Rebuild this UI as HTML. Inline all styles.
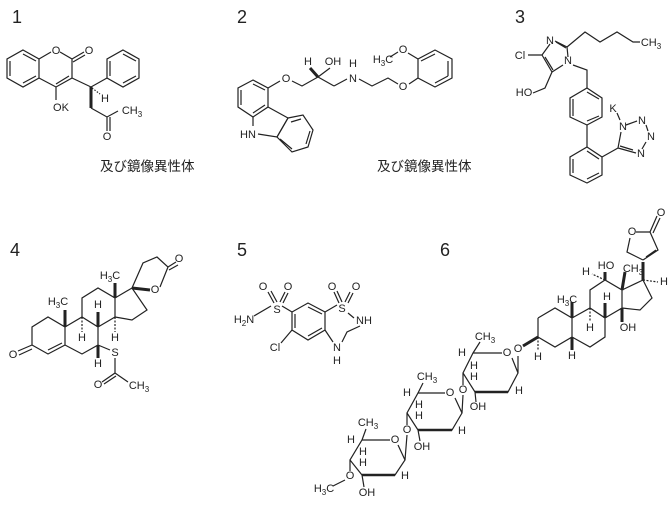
<!DOCTYPE html>
<html><head><meta charset="utf-8"><style>
html,body{margin:0;padding:0;background:#fff;}
svg text{font-family:"Liberation Sans","Noto Sans CJK JP",sans-serif;fill:#222;}
.a{font-size:11px;text-anchor:middle;dominant-baseline:central;}
.n{font-size:18px;}
.j{font-size:13.5px;font-family:"Liberation Sans","Noto Sans CJK JP",sans-serif;}
</style></head><body>
<svg width="672" height="504" viewBox="0 0 672 504" xmlns="http://www.w3.org/2000/svg">
<g stroke="#222" stroke-width="1.2" fill="none">
<!-- 1 -->
<polygon points="23,50 39,59 39,78 23,87 7,78 7,59"/>
<path d="M10,61 L10,76 M23,54 L36,61 M23,83 L36,76"/>
<path d="M39,59 L51,52 M60,52 L72,59 L72,78 L56,87 L39,78 M72,59 L84,52 M73,62 L85,55 M69,76 L56,84 M56,87 L56,100 M72,78 L91,87 L107,78"/>
<polygon points="123,50 139,59 139,78 123,87 107,78 107,59"/>
<path d="M110,61 L110,76 M123,54 L136,61 M136,76 L123,83"/>
<path d="M91,108 L107,117 L118,111 M107,117 L107,131 M110,117 L110,131"/>
<path d="M91,87 L91,108" stroke-width="3"/>
<path d="M92,88 L100,94" stroke-dasharray="1.5,1.5"/>
<!-- 2 -->
<polygon points="253,80 268,88 268,107 253,117 238,107 238,88"/>
<path d="M241,90 L241,105 M253,84 L265,90 M265,105 L253,113"/>
<path d="M268,88 L280,81 M268,107 L288,118 M253,117 L253,126 M258,134 L277,137 L288,118"/>
<polygon points="288,118 303,115 313,130 308,147 292,152 277,137"/>
<path d="M291,122 L301,119 M310,131 L306,144 M280,139 L292,149"/>
<path d="M292,81 L302,86 L318,77 M318,77 L330,68 M334,86 L347,79 M359,79 L372,86 L388,78 L398,84 M409,84 L418,78"/>
<path d="M318,77 L334,86"/>
<path d="M318,77 L310,68" stroke-width="3"/>
<polygon points="418,78 418,59 435,50 452,59 452,78 435,87"/>
<path d="M448,61 L448,76 M435,54 L421,61 M435,83 L448,76 M418,59 L408,53 M398,52 L390,57"/>
<!-- 3 -->
<path d="M542,55 L550,44 M555,41 L567,47 L568,57 M542,55 L552,72 L563,65 M545,57 L553,70 M556,42 L566,48 M542,55 L528,55 M552,72 L545,88 L533,93 M567,47 L585,32 L600,42 L617,32 L633,42 L640,42 M573,65 L587,70 L587,88"/>
<polygon points="587,88 602,98 602,117 587,125 570,117 570,98"/>
<path d="M587,92 L599,99 M599,116 L587,121 M573,99 L573,116 M587,125 L587,147"/>
<polygon points="587,147 602,157 602,175 587,183 570,175 570,157"/>
<path d="M573,159 L573,173 M587,179 L599,173 M599,159 L587,151 M602,157 L618,148 L621,132 M626,125 L637,121 M646,125 L648,131 M646,142 L642,149 M636,153 L618,148 M633,150 L620,146 M617,113 L620,120"/>
<!-- 4 -->
<path d="M18,351 L32,345 M19,355 L32,349 M32,345 L32,327 L48,317 L65,327 L65,345 L48,354 L32,345 M48,350 L62,343 M65,345 L82,354 L98,345 L98,327 L82,317 L65,327 M82,317 L82,298 L98,288 L115,298 L115,317 L98,327 M115,298 L132,288 L147,310 L132,320 L115,317 M132,288 L143,263 L157,257 L168,267 L160,287 M168,267 L176,262 M169,270 L178,265 M98,345 L110,350 M115,358 L115,373 L102,382 M116,376 L104,384 M115,373 L128,382"/>
<path d="M115,298 L115,283 M65,327 L65,310" stroke-width="3"/>
<path d="M82,317 L82,332 M115,317 L115,332" stroke-dasharray="2,1.5"/>
<path d="M98,327 L98,312" stroke-width="3"/>
<path d="M98,345 L98,358" stroke-width="3"/>
<path d="M132,288 L150,290" stroke-width="3"/>
<!-- 5 -->
<polygon points="292,312 308,303 325,312 325,330 308,340 292,330"/>
<path d="M295,314 L295,328 M308,307 L322,314 M308,336 L322,328 M325,312 L337,305 M348,313 L354,318 M360,326 L347,332 L342,342 M325,330 L333,342 M292,312 L282,306 M271,306 L254,316 M292,330 L281,343 M339,303 L334,292 M342,302 L337,291 M345,302 L350,292 M348,303 L353,293 M274,303 L268,292 M277,302 L271,291 M280,302 L285,292 M283,303 L288,293"/>
<!-- 6 steroid -->
<path d="M538,318 L555,308 L572,318 L572,337 L555,347 L538,337 L538,318 M572,318 L590,308 L605,318 L605,337 L590,347 L572,337 M590,308 L590,290 L605,280 L622,290 L622,308 L605,318 M622,290 L643,280 L652,298 L640,310 L622,308 M643,260 L627,252 L630,238 M636,232 L650,232 L658,250 L643,260 M646,257 L656,250 M650,232 L657,216 M653,233 L660,218"/>
<path d="M572,318 L572,302 M622,290 L625,272" stroke-width="3"/>
<path d="M572,337 L572,350" stroke-width="3"/>
<path d="M605,318 L605,303" stroke-width="3"/>
<path d="M622,308 L622,322" stroke-width="3"/>
<path d="M605,280 L605,272" stroke-width="3"/>
<path d="M538,337 L523,346" stroke-width="3"/>
<path d="M643,280 L643,262" stroke-width="3"/>
<path d="M590,308 L590,322 M605,280 L592,274 M643,280 L658,282 M538,337 L538,350" stroke-dasharray="2,1.5"/>
<!-- sugars -->
<path d="M502,353 L473,353 L463,373 L475,392 L508,392 L518,373 L512,358 M473,353 L480,342 M518,373 L518,356 M475,392 L476,402 M463,373 L463,385 M463,395 L462,413"/>
<path d="M445,393 L418,393 L407,413 L418,430 L452,430 L462,413 L455,398 M418,393 L423,383 M418,430 L420,441 M407,413 L407,425 M407,435 L405,460"/>
<path d="M390,440 L362,440 L350,460 L362,475 L395,475 L405,460 L398,445 M362,440 L366,429 M362,475 L364,487 M350,460 L350,471 M345,480 L333,486"/>
<path d="M475,392 L508,392 M418,430 L452,430 M362,475 L395,475" stroke-width="2.5"/>
</g>
<g>
<text x="12" y="23" class="n">1</text>
<text x="56" y="51" class="a">O</text>
<text x="89" y="51" class="a">O</text>
<text x="61" y="108" class="a">OK</text>
<text x="105" y="99" class="a">H</text>
<text x="132" y="111" class="a">CH<tspan font-size="8" dy="3">3</tspan></text>
<text x="107" y="137" class="a">O</text>
<text x="100" y="171" class="j">及び鏡像異性体</text>

<text x="237" y="23" class="n">2</text>
<text x="286" y="79" class="a">O</text>
<text x="248" y="135" class="a">HN</text>
<text x="308" y="62" class="a">H</text>
<text x="333" y="62" class="a">OH</text>
<text x="353" y="64" class="a">H</text>
<text x="353" y="79" class="a">N</text>
<text x="403" y="87" class="a">O</text>
<text x="403" y="50" class="a">O</text>
<text x="383" y="60" class="a">H<tspan font-size="8" dy="3">3</tspan><tspan dy="-3">C</tspan></text>
<text x="377" y="171" class="j">及び鏡像異性体</text>

<text x="515" y="23" class="n">3</text>
<text x="550" y="41" class="a">N</text>
<text x="568" y="61" class="a">N</text>
<text x="520" y="56" class="a">Cl</text>
<text x="524" y="93" class="a">HO</text>
<text x="651" y="43" class="a">CH<tspan font-size="8" dy="3">3</tspan></text>
<text x="613" y="109" class="a" font-size="9">K</text>
<text x="623" y="127" class="a">N</text>
<text x="642" y="121" class="a">N</text>
<text x="651" y="137" class="a">N</text>
<text x="641" y="154" class="a">N</text>

<text x="10" y="256" class="n">4</text>
<text x="13" y="355" class="a">O</text>
<text x="58" y="302" class="a">H<tspan font-size="8" dy="3">3</tspan><tspan dy="-3">C</tspan></text>
<text x="110" y="276" class="a">H<tspan font-size="8" dy="3">3</tspan><tspan dy="-3">C</tspan></text>
<text x="98" y="305" class="a">H</text>
<text x="82" y="338" class="a">H</text>
<text x="115" y="338" class="a">H</text>
<text x="98" y="364" class="a">H</text>
<text x="115" y="353" class="a">S</text>
<text x="98" y="385" class="a">O</text>
<text x="139" y="386" class="a">CH<tspan font-size="8" dy="3">3</tspan></text>
<text x="155" y="290" class="a">O</text>
<text x="179" y="259" class="a">O</text>

<text x="237" y="256" class="n">5</text>
<text x="277" y="310" class="a">S</text>
<text x="263" y="287" class="a">O</text>
<text x="288" y="287" class="a">O</text>
<text x="244" y="320" class="a">H<tspan font-size="8" dy="3">2</tspan><tspan dy="-3">N</tspan></text>
<text x="275" y="348" class="a">Cl</text>
<text x="342" y="309" class="a">S</text>
<text x="332" y="287" class="a">O</text>
<text x="356" y="287" class="a">O</text>
<text x="364" y="321" class="a">NH</text>
<text x="337" y="348" class="a">N</text>
<text x="337" y="361" class="a">H</text>

<text x="440" y="256" class="n">6</text>
<text x="632" y="232" class="a">O</text>
<text x="661" y="213" class="a">O</text>
<text x="606" y="266" class="a">HO</text>
<text x="586" y="272" class="a">H</text>
<text x="633" y="269" class="a">CH<tspan font-size="8" dy="3">3</tspan></text>
<text x="664" y="282" class="a">H</text>
<text x="567" y="300" class="a">H<tspan font-size="8" dy="3">3</tspan><tspan dy="-3">C</tspan></text>
<text x="607" y="297" class="a">H</text>
<text x="590" y="328" class="a">H</text>
<text x="628" y="328" class="a">OH</text>
<text x="572" y="356" class="a">H</text>
<text x="538" y="357" class="a">H</text>
<text x="518" y="349" class="a">O</text>
<text x="507" y="353" class="a">O</text>
<text x="485" y="337" class="a">CH<tspan font-size="8" dy="3">3</tspan></text>
<text x="462" y="353" class="a">H</text>
<text x="474" y="366" class="a">H</text>
<text x="474" y="377" class="a">H</text>
<text x="519" y="391" class="a">H</text>
<text x="478" y="407" class="a">OH</text>
<text x="463" y="390" class="a">O</text>
<text x="450" y="393" class="a">O</text>
<text x="427" y="377" class="a">CH<tspan font-size="8" dy="3">3</tspan></text>
<text x="407" y="393" class="a">H</text>
<text x="419" y="405" class="a">H</text>
<text x="419" y="416" class="a">H</text>
<text x="462" y="431" class="a">H</text>
<text x="422" y="447" class="a">OH</text>
<text x="407" y="430" class="a">O</text>
<text x="395" y="440" class="a">O</text>
<text x="368" y="423" class="a">CH<tspan font-size="8" dy="3">3</tspan></text>
<text x="351" y="440" class="a">H</text>
<text x="363" y="452" class="a">H</text>
<text x="363" y="463" class="a">H</text>
<text x="405" y="476" class="a">H</text>
<text x="350" y="476" class="a">O</text>
<text x="324" y="489" class="a">H<tspan font-size="8" dy="3">3</tspan><tspan dy="-3">C</tspan></text>
<text x="367" y="493" class="a">OH</text>
</g>
</svg>
</body></html>
